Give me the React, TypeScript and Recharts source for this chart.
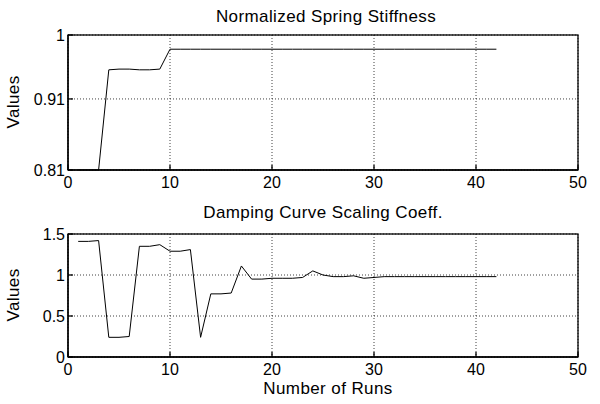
import React from 'react';
import { LineChart, Line, XAxis, YAxis, CartesianGrid } from 'recharts';

const runs = [
  1, 2, 3, 4, 5, 6, 7, 8, 9, 10, 11, 12, 13, 14, 15, 16, 17, 18, 19, 20, 21,
  22, 23, 24, 25, 26, 27, 28, 29, 30, 31, 32, 33, 34, 35, 36, 37, 38, 39, 40, 41, 42,
];

const stiffness = [
  0.81, 0.81, 0.81, 0.951, 0.952, 0.952, 0.951, 0.951, 0.952, 0.98, 0.98, 0.98, 0.98, 0.98,
  0.98, 0.98, 0.98, 0.98, 0.98, 0.98, 0.98, 0.98, 0.98, 0.98, 0.98, 0.98, 0.98, 0.98,
  0.98, 0.98, 0.98, 0.98, 0.98, 0.98, 0.98, 0.98, 0.98, 0.98, 0.98, 0.98, 0.98, 0.98,
];

const damping = [
  1.41, 1.41, 1.42, 0.24, 0.24, 0.25, 1.35, 1.35, 1.37, 1.29, 1.29, 1.31, 0.24, 0.77,
  0.77, 0.78, 1.11, 0.95, 0.95, 0.96, 0.96, 0.96, 0.97, 1.05, 1.0, 0.98, 0.98, 0.99,
  0.96, 0.97, 0.98, 0.98, 0.98, 0.98, 0.98, 0.98, 0.98, 0.98, 0.98, 0.98, 0.98, 0.98,
];

const xTicks = [0, 10, 20, 30, 40, 50];
const stiffTicks = [0.81, 0.91, 1];
const dampTicks = [0, 0.5, 1, 1.5];

const topData = runs.map((r, i) => ({ run: r, value: stiffness[i] }));
const bottomData = runs.map((r, i) => ({ run: r, value: damping[i] }));

const font = '"Liberation Sans", Arial, sans-serif';
const tickStyle = { fill: '#000', fontSize: 16, fontFamily: font };
const axisLine = { stroke: '#000', strokeWidth: 1.3 };

// plot area: left 68, right 578; plotTop / plotHeight given per panel
const Panel = ({ data, yDomain, yTicks, plotTop, plotHeight }: any) => (
  <LineChart width={600} height={plotTop + plotHeight + 25} data={data}
    margin={{ top: plotTop, right: 22, bottom: 0, left: 0 }}>
    <CartesianGrid stroke="#000" strokeDasharray="1 2" strokeOpacity={0.75} />
    <XAxis dataKey="run" type="number" domain={[0, 50]} ticks={xTicks}
      interval={0} height={25} tickSize={-5} tickMargin={12}
      axisLine={axisLine} tickLine={axisLine} tick={tickStyle} />
    <XAxis xAxisId="top" orientation="top" dataKey="run" type="number" domain={[0, 50]}
      ticks={xTicks} height={0} tickSize={-5} axisLine={false} tickLine={axisLine} tick={false} />
    <YAxis type="number" domain={yDomain} ticks={yTicks} interval={0} width={68}
      tickSize={-5} tickMargin={8} axisLine={axisLine} tickLine={axisLine} tick={tickStyle} />
    {/* box outline */}
    <rect x={68} y={plotTop} width={510} height={plotHeight} fill="none"
      stroke="#000" strokeWidth={1.3} />
    <Line type="linear" dataKey="value" stroke="#000" strokeWidth={1} dot={false}
      isAnimationActive={false} />
  </LineChart>
);

const label = (text: string, left: number, top: number, extra: any = {}) => (
  <div style={{
    position: 'absolute', left, top, transform: 'translate(-50%, -50%)', whiteSpace: 'nowrap',
    fontFamily: font, fontSize: 17, letterSpacing: 0.4, color: '#000', lineHeight: 1, ...extra,
  }}>{text}</div>
);

export default function App() {
  return (
    <div style={{ position: 'absolute', left: 0, top: 0, width: 600, height: 404, background: '#fff' }}>
      <div style={{ position: 'absolute', left: 0, top: 0 }}>
        <Panel data={topData} yDomain={[0.81, 1]} yTicks={stiffTicks} plotTop={35} plotHeight={135} />
      </div>
      <div style={{ position: 'absolute', left: 0, top: 200 }}>
        <Panel data={bottomData} yDomain={[0, 1.5]} yTicks={dampTicks} plotTop={34} plotHeight={123} />
      </div>
      {label('Normalized Spring Stiffness', 326, 16)}
      {label('Damping Curve Scaling Coeff.', 323, 212)}
      {label('Number of Runs', 328, 388)}
      {label('Values', 13, 102, { transform: 'translate(-50%, -50%) rotate(-90deg)' })}
      {label('Values', 13, 295, { transform: 'translate(-50%, -50%) rotate(-90deg)' })}
    </div>
  );
}
